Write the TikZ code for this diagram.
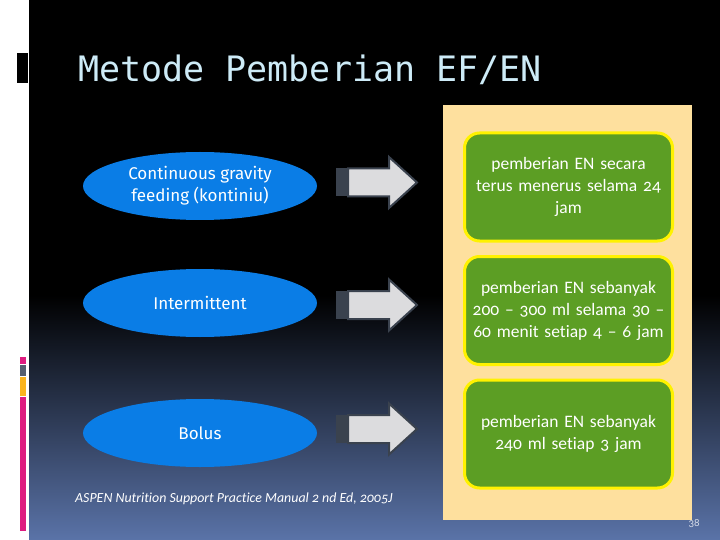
\documentclass[tikz,border=0pt]{standalone}
\usepackage{fontspec}
\setmainfont{Carlito}[Numbers=OldStyle, Ligatures=NoCommon]
\newfontfamily\titlefont{DejaVu Sans Mono}
\newfontfamily\ovalfont{Fira Sans}
\usetikzlibrary{shapes.geometric}
\definecolor{bgblue}{RGB}{90,115,168}
\definecolor{titlecol}{RGB}{205,235,247}
\definecolor{peach}{RGB}{254,224,158}
\definecolor{engreen}{RGB}{92,158,36}
\definecolor{ovalblue}{RGB}{10,125,230}
\definecolor{arrowfill}{RGB}{220,220,222}
\definecolor{arrowedge}{RGB}{58,66,78}
\definecolor{magentabar}{RGB}{222,28,128}
\definecolor{graybar}{RGB}{85,95,112}
\definecolor{orangebar}{RGB}{250,180,30}
\tikzset{
  oval/.style={ellipse, fill=ovalblue, minimum width=234pt, minimum height=68pt,
    inner sep=0pt, text=white, align=center, font=\ovalfont\fontsize{17}{22}\selectfont},
  enbox/.style={rectangle, rounded corners=15pt, fill=engreen, draw=yellow,
    line width=3pt, minimum width=208pt, minimum height=108pt, text=white,
    align=center, text width=200pt, font=\fontsize{17.5}{22}\selectfont},
  blockarrow/.pic={
    \fill[arrowedge] (0,-14) rectangle (12,14);
    \draw[arrowedge, fill=arrowfill, line width=2pt, line join=miter]
      (12,-14) -- (53,-14) -- (53,-25.5) -- (81,0) -- (53,25.5) -- (53,14) -- (12,14) -- cycle;
  }
}
\begin{document}
\begin{tikzpicture}[x=1pt,y=-1pt]
\useasboundingbox (0,0) rectangle (720,540);
\fill[white] (0,0) rectangle (720,540);
\fill[black] (29,0) rectangle (720,295);
\shade[top color=black, bottom color=bgblue] (29,295) rectangle (720,540);
% left decorations
\fill[black] (17,53) rectangle (28,83);
\fill[magentabar] (20,357) rectangle (26,364);
\fill[graybar] (20,365) rectangle (26,376);
\fill[orangebar] (20,377) rectangle (26,396);
\fill[magentabar] (20,397) rectangle (26,531);
% title
\node[anchor=base west, inner sep=0pt, text=titlecol, font=\titlefont\fontsize{35}{40}\selectfont] (title) at (78,82) {Metode Pemberian EF/EN};
% panel
\fill[peach] (443,105) rectangle (692,520);
% ovals
\node[oval] (o1) at (200,186) {Continuous gravity\\feeding (kontiniu)};
\node[oval] (o2) at (200,303) {Intermittent};
\node[oval] (o3) at (200,433) {Bolus};
% arrows
\pic at (336,182.5) {blockarrow};
\pic at (336,305) {blockarrow};
\pic at (336,429) {blockarrow};
% green boxes
\node[enbox] (g1) at (568.5,187) {pemberian EN secara\\terus menerus selama 24\\jam};
\node[enbox] (g2) at (568.5,310.5) {pemberian EN sebanyak\\200 – 300 ml selama 30 –\\60 menit setiap 4 – 6 jam};
\node[enbox] (g3) at (568.5,434) {pemberian EN sebanyak\\240 ml setiap 3 jam};
% citation
\node[anchor=base west, inner sep=0pt, text=white, font=\itshape\fontsize{13.9}{16}\selectfont] (cite) at (75,502) {ASPEN Nutrition Support Practice Manual 2 nd Ed, 2005J};
\node[anchor=base east, inner sep=0pt, text=white!75!bgblue, font=\fontsize{11}{13}\selectfont] (pg) at (700,526) {38};
\end{tikzpicture}
\end{document}
